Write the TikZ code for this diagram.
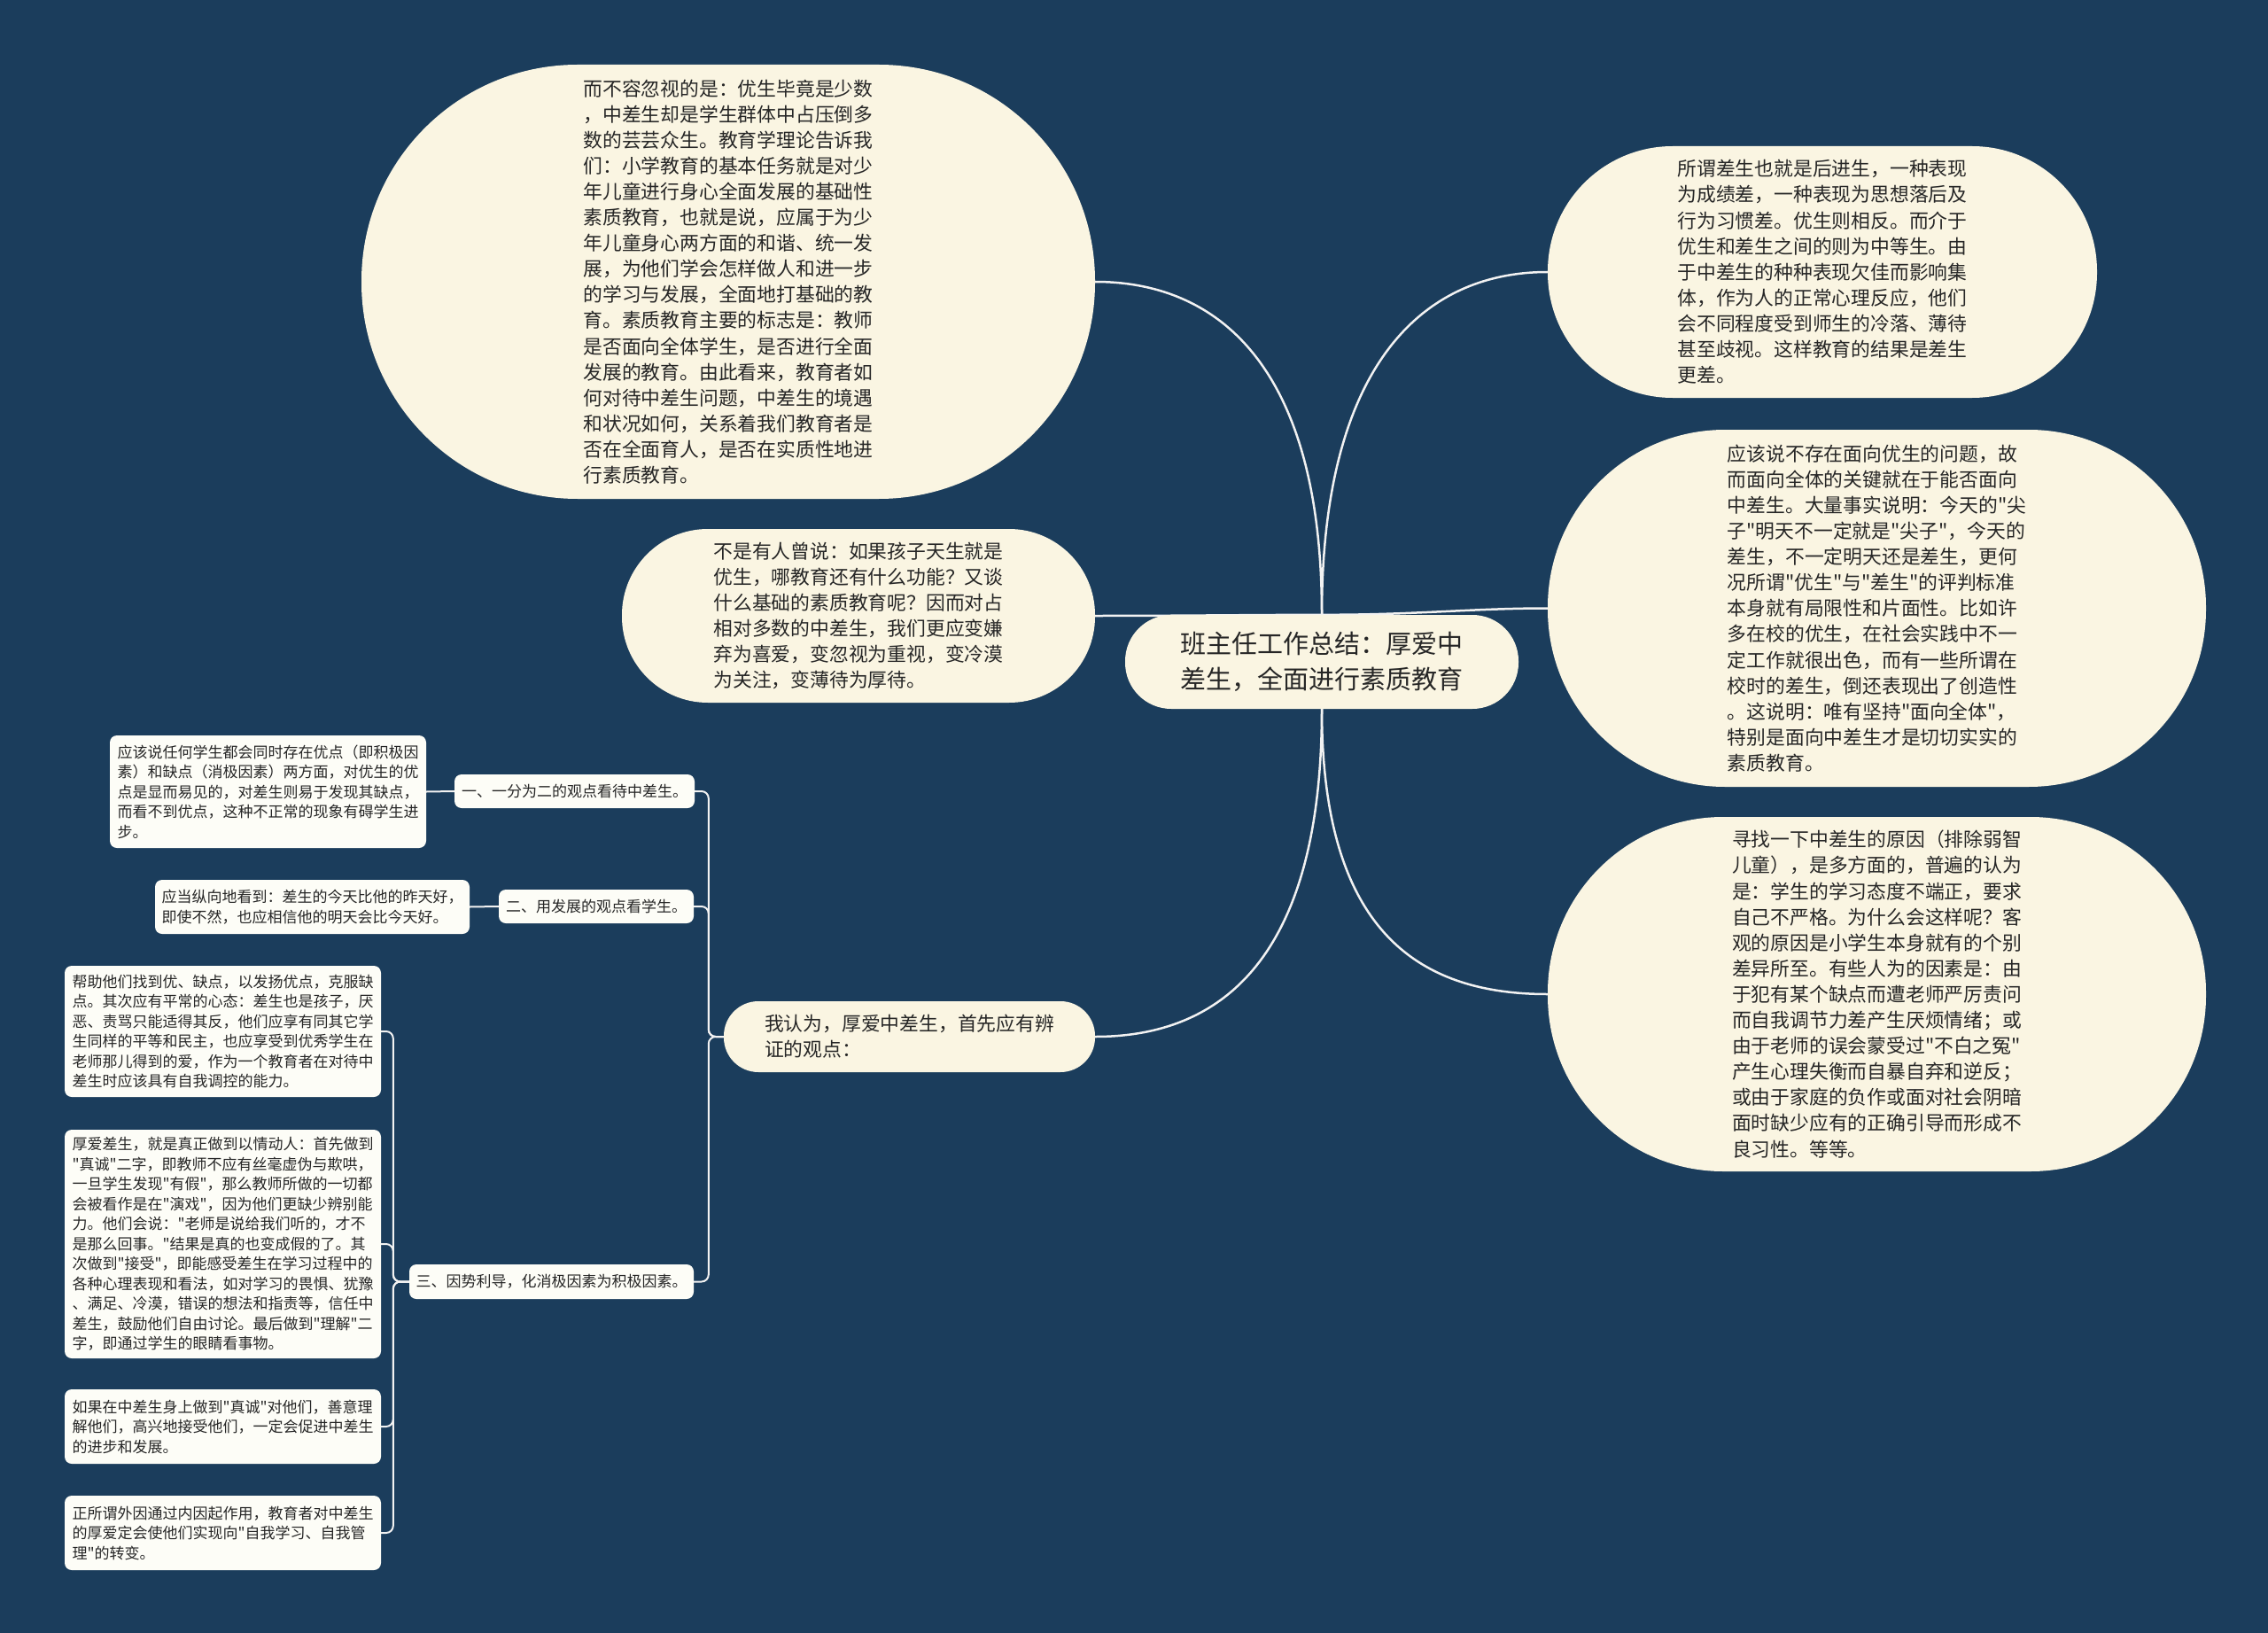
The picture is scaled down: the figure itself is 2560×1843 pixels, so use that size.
\documentclass[tikz,border=0pt]{standalone}
\usepackage{fontspec}
\setmainfont{Noto Sans CJK SC}[Ligatures=TeXOff]
\usetikzlibrary{backgrounds}
\definecolor{bgc}{HTML}{1B3D5C}
\definecolor{cream}{HTML}{FAF5E2}
\definecolor{boxw}{HTML}{FDFDF7}
\definecolor{txt}{HTML}{262626}
\definecolor{linec}{HTML}{F2F2F2}
\tikzset{
  big/.style={fill=cream, text=txt, align=left, inner sep=0pt,
    font=\fontsize{21.8pt}{29.1pt}\selectfont},
  rootbox/.style={fill=cream, text=txt, align=left, inner sep=0pt,
    font=\fontsize{29pt}{40pt}\selectfont},
  small/.style={fill=boxw, text=txt, align=left, inner sep=0pt, rounded corners=8pt,
    font=\fontsize{17pt}{22.5pt}\selectfont},
  conn/.style={draw=linec, line width=2.5pt},
  lconn/.style={draw=linec, line width=2pt, rounded corners=8pt},
}
\begin{document}
\begin{tikzpicture}[x=1pt,y=-1pt]
\useasboundingbox (0,0) rectangle (2560,1843);

% root
\node[rootbox, minimum width=444pt, minimum height=106pt, rounded corners=52pt] (R) at (1492,747)
 {班主任工作总结：厚爱中\\差生，全面进行素质教育};

% top-left
\node[big, minimum width=828pt, minimum height=490pt, rounded corners=244pt] (TL) at (822,318)
 {而不容忽视的是：优生毕竟是少数\\，中差生却是学生群体中占压倒多\\数的芸芸众生。教育学理论告诉我\\们：小学教育的基本任务就是对少\\年儿童进行身心全面发展的基础性\\素质教育，也就是说，应属于为少\\年儿童身心两方面的和谐、统一发\\展，为他们学会怎样做人和进一步\\的学习与发展，全面地打基础的教\\育。素质教育主要的标志是：教师\\是否面向全体学生，是否进行全面\\发展的教育。由此看来，教育者如\\何对待中差生问题，中差生的境遇\\和状况如何，关系着我们教育者是\\否在全面育人，是否在实质性地进\\行素质教育。};

% left bubble
\node[big, minimum width=534pt, minimum height=196pt, rounded corners=97pt] (LB) at (969,695)
 {不是有人曾说：如果孩子天生就是\\优生，哪教育还有什么功能？又谈\\什么基础的素质教育呢？因而对占\\相对多数的中差生，我们更应变嫌\\弃为喜爱，变忽视为重视，变冷漠\\为关注，变薄待为厚待。};

% top-right
\node[big, minimum width=620pt, minimum height=284pt, rounded corners=141pt] (TR) at (2057,307)
 {所谓差生也就是后进生，一种表现\\为成绩差，一种表现为思想落后及\\行为习惯差。优生则相反。而介于\\优生和差生之间的则为中等生。由\\于中差生的种种表现欠佳而影响集\\体，作为人的正常心理反应，他们\\会不同程度受到师生的冷落、薄待\\甚至歧视。这样教育的结果是差生\\更差。};

% right-middle
\node[big, minimum width=743pt, minimum height=403pt, rounded corners=200pt] (RM) at (2118.5,686.5)
 {应该说不存在面向优生的问题，故\\而面向全体的关键就在于能否面向\\中差生。大量事实说明：今天的"尖\\子"明天不一定就是"尖子"，今天的\\差生，不一定明天还是差生，更何\\况所谓"优生"与"差生"的评判标准\\本身就有局限性和片面性。比如许\\多在校的优生，在社会实践中不一\\定工作就很出色，而有一些所谓在\\校时的差生，倒还表现出了创造性\\。这说明：唯有坚持"面向全体"，\\特别是面向中差生才是切切实实的\\素质教育。};

% right-bottom
\node[big, minimum width=743pt, minimum height=400pt, rounded corners=198pt] (RB) at (2118.5,1122)
 {寻找一下中差生的原因（排除弱智\\儿童），是多方面的，普遍的认为\\是：学生的学习态度不端正，要求\\自己不严格。为什么会这样呢？客\\观的原因是小学生本身就有的个别\\差异所至。有些人为的因素是：由\\于犯有某个缺点而遭老师严厉责问\\而自我调节力差产生厌烦情绪；或\\由于老师的误会蒙受过"不白之冤"\\产生心理失衡而自暴自弃和逆反；\\或由于家庭的负作或面对社会阴暗\\面时缺少应有的正确引导而形成不\\良习性。等等。};

% "我认为" node
\node[big, minimum width=419pt, minimum height=80pt, rounded corners=39pt] (W) at (1026.5,1170)
 {我认为，厚爱中差生，首先应有辨\\证的观点：};

% level-2 nodes
\node[small, align=center, minimum width=271pt, minimum height=38pt] (C1) at (648.5,893)
 {一、一分为二的观点看待中差生。};
\node[small, align=center, minimum width=220pt, minimum height=38pt] (C2) at (673,1023)
 {二、用发展的观点看学生。};
\node[small, align=center, minimum width=321pt, minimum height=39pt] (C3) at (622.5,1446.5)
 {三、因势利导，化消极因素为积极因素。};

% leaves
\node[small, minimum width=357pt, minimum height=127pt] (B1) at (302.5,893.5)
 {应该说任何学生都会同时存在优点（即积极因\\素）和缺点（消极因素）两方面，对优生的优\\点是显而易见的，对差生则易于发现其缺点，\\而看不到优点，这种不正常的现象有碍学生进\\步。};
\node[small, minimum width=355pt, minimum height=61pt] (B2) at (352.5,1023.5)
 {应当纵向地看到：差生的今天比他的昨天好，\\即使不然，也应相信他的明天会比今天好。};
\node[small, minimum width=357pt, minimum height=148pt] (L1) at (251.5,1164)
 {帮助他们找到优、缺点，以发扬优点，克服缺\\点。其次应有平常的心态：差生也是孩子，厌\\恶、责骂只能适得其反，他们应享有同其它学\\生同样的平等和民主，也应享受到优秀学生在\\老师那儿得到的爱，作为一个教育者在对待中\\差生时应该具有自我调控的能力。};
\node[small, minimum width=357pt, minimum height=258pt] (L2) at (251.5,1404)
 {厚爱差生，就是真正做到以情动人：首先做到\\"真诚"二字，即教师不应有丝毫虚伪与欺哄，\\一旦学生发现"有假"，那么教师所做的一切都\\会被看作是在"演戏"，因为他们更缺少辨别能\\力。他们会说："老师是说给我们听的，才不\\是那么回事。"结果是真的也变成假的了。其\\次做到"接受"，即能感受差生在学习过程中的\\各种心理表现和看法，如对学习的畏惧、犹豫\\、满足、冷漠，错误的想法和指责等，信任中\\差生，鼓励他们自由讨论。最后做到"理解"二\\字，即通过学生的眼睛看事物。};
\node[small, minimum width=357pt, minimum height=84pt] (L3) at (251.5,1610)
 {如果在中差生身上做到"真诚"对他们，善意理\\解他们，高兴地接受他们，一定会促进中差生\\的进步和发展。};
\node[small, minimum width=357pt, minimum height=84pt] (L4) at (251.5,1730)
 {正所谓外因通过内因起作用，教育者对中差生\\的厚爱定会使他们实现向"自我学习、自我管\\理"的转变。};

\begin{scope}[on background layer]
\fill[bgc] (0,0) rectangle (2560,1843);
\draw[conn] (R.north) .. controls (1492,420) and (1380,318) .. (TL.east);
\draw[conn] (R.north) .. controls (1492,420) and (1600,307) .. (TR.west);
\draw[conn] (R.north) .. controls (1400,694) and (1330,695) .. (LB.east);
\draw[conn] (R.north) .. controls (1600,694) and (1660,686.5) .. (RM.west);
\draw[conn] (R.south) .. controls (1492,1050) and (1600,1122) .. (RB.west);
\draw[conn] (R.south) .. controls (1492,1080) and (1380,1170) .. (W.east);
\draw[lconn] (W.west) -- ++(-17,0) |- (C1.east);
\draw[lconn] (W.west) -- ++(-17,0) |- (C2.east);
\draw[lconn] (W.west) -- ++(-17,0) |- (C3.east);
\draw[lconn] (B1.east) -- (C1.west);
\draw[lconn] (B2.east) -- (C2.west);
\draw[lconn] (C3.west) -- ++(-18,0) |- (L1.east);
\draw[lconn] (C3.west) -- ++(-18,0) |- (L2.east);
\draw[lconn] (C3.west) -- ++(-18,0) |- (L3.east);
\draw[lconn] (C3.west) -- ++(-18,0) |- (L4.east);
\end{scope}
\end{tikzpicture}
\end{document}
